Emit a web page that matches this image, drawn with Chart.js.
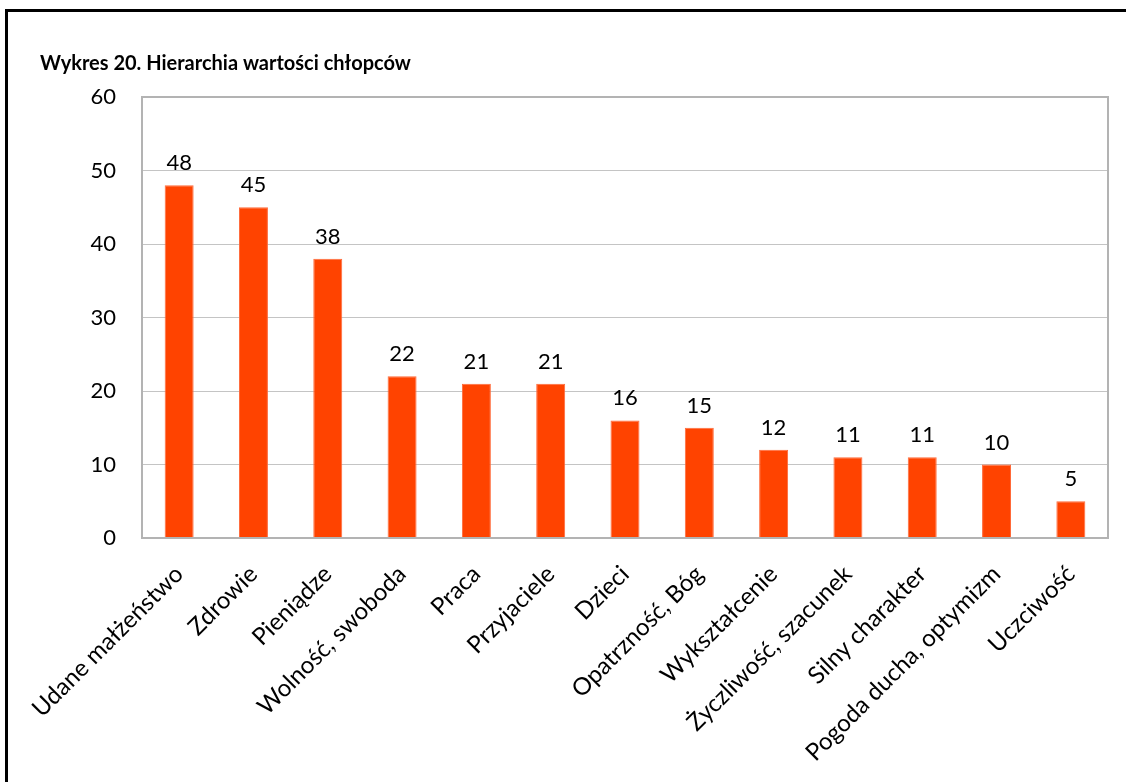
<!DOCTYPE html>
<html lang="pl">
<head>
<meta charset="utf-8">
<title>Wykres 20. Hierarchia wartości chłopców</title>
<script src="https://cdn.jsdelivr.net/npm/chart.js@4/dist/chart.umd.min.js"></script>
<style>
  html, body { margin: 0; padding: 0; background: #ffffff; overflow: hidden; }
  #wrap { position: relative; width: 1126px; height: 782px; }
  #frame {
    position: absolute; left: 5px; top: 9px; width: 1200px; height: 900px;
    border-left: 3px solid #000; border-top: 3px solid #000; box-sizing: border-box;
    pointer-events: none;
  }
  canvas { position: absolute; left: 0; top: 0; }
</style>
</head>
<body>
<div id="wrap">
  <canvas id="chart" width="1126" height="782"></canvas>
  <div id="frame"></div>
</div>
<script>
// Wartości wskazane przez chłopców (liczba wskazań)
const categories = [
  'Udane małżeństwo', 'Zdrowie', 'Pieniądze', 'Wolność, swoboda', 'Praca',
  'Przyjaciele', 'Dzieci', 'Opatrzność, Bóg', 'Wykształcenie',
  'Życzliwość, szacunek', 'Silny charakter', 'Pogoda ducha, optymizm', 'Uczciwość'
];
const values = [48, 45, 38, 22, 21, 21, 16, 15, 12, 11, 11, 10, 5];
const yTicks = [0, 10, 20, 30, 40, 50, 60];

const FONT = 'Lato, "Open Sans", "Liberation Sans", sans-serif';

// Ramka obszaru wykresu
const plotFrame = {
  id: 'plotFrame',
  afterDraw(chart) {
    const { ctx, chartArea: a } = chart;
    ctx.save();
    ctx.strokeStyle = '#b3b3b3';
    ctx.lineWidth = 2;
    ctx.strokeRect(a.left, a.top, a.right - a.left, a.bottom - a.top);
    ctx.restore();
  }
};

// Etykiety z wartościami nad słupkami
const valueLabels = {
  id: 'valueLabels',
  afterDatasetsDraw(chart) {
    const { ctx } = chart;
    const meta = chart.getDatasetMeta(0);
    ctx.save();
    ctx.fillStyle = '#000';
    ctx.font = '22px ' + FONT;
    ctx.textAlign = 'center';
    ctx.textBaseline = 'alphabetic';
    meta.data.forEach((bar, i) => {
      ctx.fillText(String(values[i]), bar.x, bar.y - 15);
    });
    ctx.restore();
  }
};

new Chart(document.getElementById('chart'), {
  type: 'bar',
  data: {
    labels: categories,
    datasets: [{
      data: values,
      backgroundColor: '#ff4300',
      borderColor: '#ff6a3a',
      borderWidth: 1,
      categoryPercentage: 1,
      barPercentage: 0.39
    }]
  },
  options: {
    responsive: false,
    devicePixelRatio: 1,
    animation: false,
    layout: { padding: { left: 40, right: 18, top: 0, bottom: 0 } },
    plugins: {
      legend: { display: false },
      tooltip: { enabled: false },
      title: {
        display: true,
        text: 'Wykres 20. Hierarchia wartości chłopców',
        align: 'start',
        color: '#000',
        font: { family: FONT, size: 20, weight: 'bold', lineHeight: 1 },
        padding: { top: 54, bottom: 23 }
      }
    },
    scales: {
      x: {
        grid: { display: false, drawTicks: false },
        border: { display: false },
        ticks: {
          autoSkip: false,
          minRotation: 45,
          maxRotation: 45,
          padding: 22,
          color: '#000',
          font: { family: FONT, size: 24 }
        },
        afterFit(scale) {
          scale.height = 244;
          scale.paddingLeft = 0;
          scale.paddingRight = 0;
        }
      },
      y: {
        min: 0,
        max: 60,
        afterBuildTicks(scale) {
          scale.ticks = yTicks.map(v => ({ value: v }));
        },
        grid: { color: '#c4c4c4', lineWidth: 1, drawTicks: false },
        border: { display: false },
        ticks: {
          padding: 26,
          color: '#000',
          font: { family: FONT, size: 22 }
        },
        afterFit(scale) {
          scale.width = 102;
          scale.paddingTop = 0;
          scale.paddingBottom = 0;
        }
      }
    }
  },
  plugins: [plotFrame, valueLabels]
});
</script>
</body>
</html>
